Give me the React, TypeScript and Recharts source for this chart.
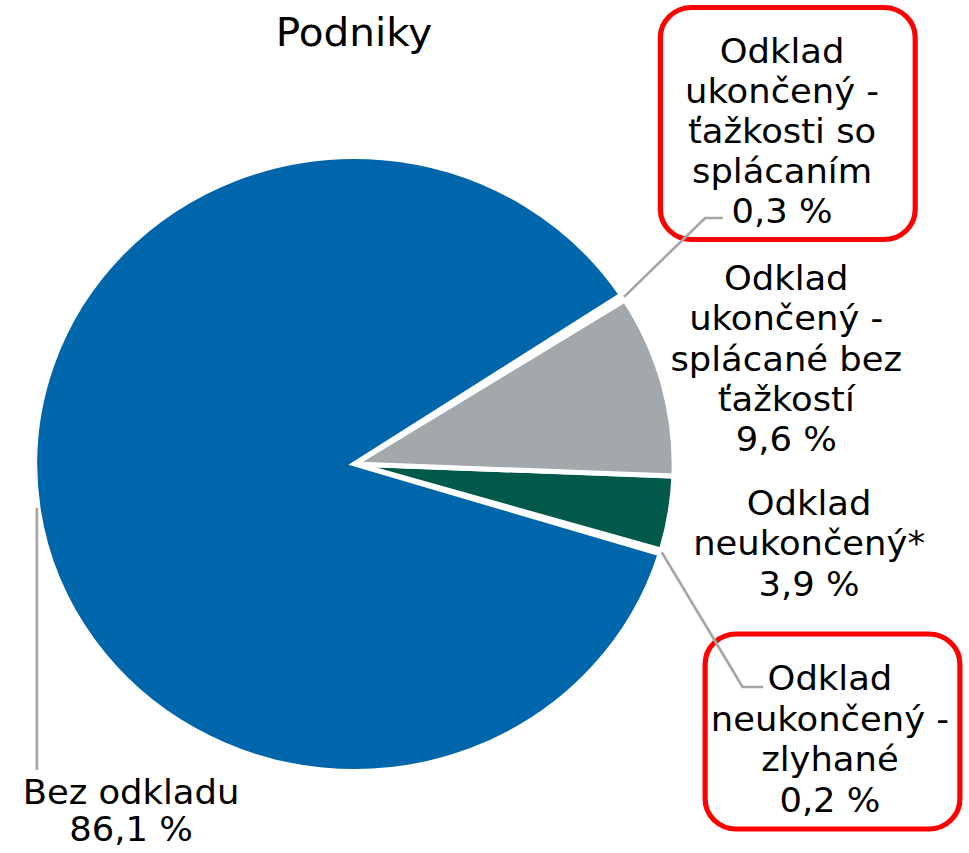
import { PieChart, Pie, Cell } from 'recharts'

// ---------------------------------------------------------------------------
// Data (counter-clockwise from the small "zlyhané" slice)
// ---------------------------------------------------------------------------

const categories = [
  ['Odklad', 'neukončený -', 'zlyhané'],
  ['Odklad', 'neukončený*'],
  ['Odklad', 'ukončený -', 'splácané bez', 'ťažkostí'],
  ['Odklad', 'ukončený -', 'ťažkosti so', 'splácaním'],
  ['Bez odkladu'],
]
const values = [0.2, 3.9, 9.6, 0.3, 86.1]
const title = 'Podniky'

// ---------------------------------------------------------------------------
// Colors / layout
// ---------------------------------------------------------------------------

const COLORS = ['#FFFFFF', '#00594A', '#A2A8AB', '#FFFFFF', '#0066AB']
const LINE = '#A6A6A6'
const RED = '#FF0000'
const FONT = '"DejaVu Sans", Verdana, sans-serif'
const STRETCH = 1.04
const W = 932
const H = 853
const RADIAN = Math.PI / 180

type LabelLayout = {
  x: number
  y: number
  lh: number
  elbow?: [number, number, number]
  drop?: number
  box?: [number, number, number, number]
}

const labelLayout: LabelLayout[] = [
  { x: 798, y: 690, lh: 40.7, elbow: [714, 687, 734], box: [678, 634, 245, 195] },
  { x: 778, y: 515, lh: 40.5 },
  { x: 756, y: 290, lh: 40.3 },
  { x: 752, y: 63, lh: 40, elbow: [678, 218, 695], box: [635, 7.5, 245, 232] },
  { x: 126, y: 804, lh: 37, drop: 770 },
]

const fmt = (v: number) => `${v.toFixed(1).replace('.', ',')} %`

const data = values.map((v, i) => ({ name: categories[i].join(' '), value: v }))

function renderLabel(props: any) {
  const { cx, cy, midAngle, outerRadius, index } = props
  const l = labelLayout[index]
  const sx = cx + (outerRadius + 1) * Math.cos(-midAngle * RADIAN)
  const sy = cy + (outerRadius + 1) * Math.sin(-midAngle * RADIAN)
  const lines = [...categories[index], fmt(values[index])]

  let leader = null
  if (l.elbow) {
    const [bx, by, ex] = l.elbow
    leader = <path d={`M${sx},${sy}L${bx},${by}L${ex},${by}`} stroke={LINE} strokeWidth={2.6} fill="none" />
  } else if (l.drop) {
    leader = <path d={`M${sx},${sy}L${sx},${l.drop}`} stroke={LINE} strokeWidth={2.6} fill="none" />
  }

  return (
    <g key={`lbl-${index}`}>
      {l.box && (
        <rect
          x={l.box[0]} y={l.box[1]} width={l.box[2]} height={l.box[3]}
          rx={30} ry={30} fill="none" stroke={RED} strokeWidth={5}
        />
      )}
      {leader}
      <text x={l.x} y={l.y} textAnchor="middle" fontFamily={FONT} fontSize={34} fill="#000">
        {lines.map((t, i) => (
          <tspan key={i} x={l.x} y={l.y + i * l.lh}>{t}</tspan>
        ))}
      </text>
    </g>
  )
}

export default function App() {
  return (
    <div style={{ position: 'absolute', left: 0, top: 0, width: W, height: H, transform: `scaleX(${STRETCH})`, transformOrigin: '0 0', background: '#fff' }}>
      <PieChart width={W} height={H} margin={{ top: 0, right: 0, bottom: 0, left: 0 }}>
        <Pie
          data={data}
          dataKey="value"
          cx={340.8}
          cy={464}
          outerRadius={307.5}
          startAngle={-17}
          endAngle={343}
          label={renderLabel}
          labelLine={false}
          isAnimationActive={false}
        >
          {data.map((d, i) => (
            <Cell key={d.name} fill={COLORS[i]} stroke="#fff" strokeWidth={5} />
          ))}
        </Pie>
      </PieChart>
      <svg width={W} height={80} style={{ position: 'absolute', left: 0, top: 0 }}>
        <text x={340.4} y={46} textAnchor="middle" fontFamily={FONT} fontSize={39} fill="#000">
          {title}
        </text>
      </svg>
    </div>
  )
}
